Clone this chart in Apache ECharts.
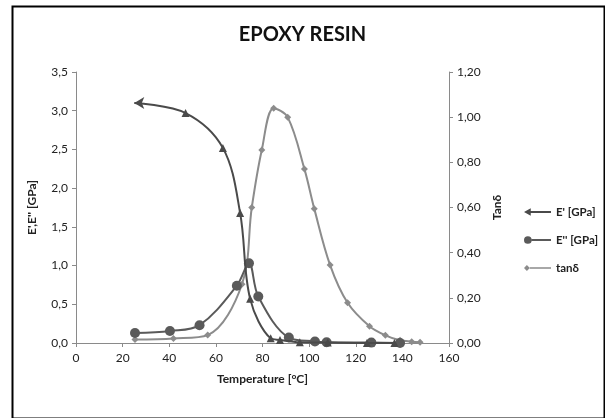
<!DOCTYPE html>
<html>
<head>
<meta charset="utf-8">
<script src="https://cdn.jsdelivr.net/npm/echarts@6/dist/echarts.min.js"></script>
<style>
html,body{margin:0;padding:0;background:#fff;}
#chart{width:605px;height:418px;}
</style>
</head>
<body>
<div id="chart"></div>
<script>
// Temperature [°C] / value pairs
const eStorage = [[25,3.1],[47,2.97],[63,2.52],[70.4,1.68],[74.7,0.57],[83.5,0.06],[87.5,0.04],[96,0.01],[108,0.005],[124.8,0.0],[136.6,0.0]];
const eLoss = [[25.3,0.13],[40.3,0.155],[53,0.23],[69,0.74],[74.2,1.03],[78.2,0.6],[91.3,0.07],[102.5,0.02],[107.5,0.01],[126.7,0.005],[139,0.0]];
const tanDelta = [[25.3,0.015],[41.8,0.02],[56.5,0.035],[71.2,0.26],[75.4,0.6],[79.7,0.855],[84.8,1.04],[90.8,1.0],[98,0.77],[102.2,0.595],[109,0.345],[116.5,0.178],[125.9,0.074],[132.7,0.034],[139,0.012],[144,0.006],[147.6,0.003]];
const seriesNames = ["E' [GPa]", "E'' [GPa]", "tanδ"];
const titleText = "EPOXY RESIN";
const xAxisName = "Temperature [°C]";
const yLeftName = "E',E'' [GPa]";
const yRightName = "Tanδ";

const FONT = 'Lato';
const chart = echarts.init(document.getElementById('chart'));
const eStorageData = eStorage.map((p, i) => i === 0 ? {value: p, symbol: 'arrow', symbolSize: [9, 10], symbolRotate: 90} : p);

chart.setOption({
  animation: false,
  backgroundColor: '#fff',
  title: {
    text: titleText, left: 'center', top: 20,
    textStyle: {fontFamily: FONT, fontSize: 20, fontWeight: 'bold', color: '#111'}
  },
  graphic: [{
    type: 'rect', left: 10, top: 4, shape: {width: 592, height: 412},
    style: {fill: 'none', stroke: '#000', lineWidth: 2}, silent: true
  }],
  legend: {
    orient: 'vertical', left: 519, top: 201, itemGap: 16,
    itemWidth: 27, itemHeight: 10,
    textStyle: {fontFamily: FONT, fontSize: 11.5, fontWeight: 'bold', color: '#222'},
    data: [
      {name: seriesNames[0], icon: 'path://M0,5 L7,1 L7,4 L28,4 L28,6 L7,6 L7,9 Z', itemStyle: {color: '#4a4a4a'}},
      {name: seriesNames[1], icon: 'path://M0,5 A4,4 0 1 1 8,5 A4,4 0 1 1 0,5 Z M8,4 L28,4 L28,6 L8,6 Z', itemStyle: {color: '#5a5a5a'}},
      {name: seriesNames[2], icon: 'path://M0,5 L3,2 L6,5 L3,8 Z M6,4.3 L28,4.3 L28,5.7 L6,5.7 Z', itemStyle: {color: '#8c8c8c'}}
    ]
  },
  grid: {left: 76, right: 156, top: 72, bottom: 75},
  xAxis: {
    type: 'value', min: 0, max: 160, interval: 20,
    name: xAxisName, nameLocation: 'middle', nameGap: 30,
    nameTextStyle: {fontFamily: FONT, fontSize: 12, fontWeight: 'bold', color: '#222'},
    axisLine: {lineStyle: {color: '#8a8a8a'}},
    axisTick: {show: true, length: 4, lineStyle: {color: '#8a8a8a'}},
    axisLabel: {fontFamily: FONT, fontSize: 12, color: '#222', margin: 9},
    splitLine: {show: false}
  },
  yAxis: [{
    type: 'value', min: 0, max: 3.5, interval: 0.5, position: 'left',
    name: yLeftName, nameLocation: 'middle', nameGap: 38, nameRotate: 90,
    nameTextStyle: {fontFamily: FONT, fontSize: 12, fontWeight: 'bold', color: '#222'},
    axisLine: {show: true, lineStyle: {color: '#8a8a8a'}},
    axisTick: {show: true, length: 4, lineStyle: {color: '#8a8a8a'}},
    axisLabel: {fontFamily: FONT, fontSize: 12, color: '#222', margin: 8,
      formatter: v => v.toFixed(1).replace('.', ',')},
    splitLine: {show: false}
  }, {
    type: 'value', min: 0, max: 1.2, interval: 0.2, position: 'right',
    name: yRightName, nameLocation: 'middle', nameGap: 42, nameRotate: 90,
    nameTextStyle: {fontFamily: FONT, fontSize: 12, fontWeight: 'bold', color: '#222'},
    axisLine: {show: true, lineStyle: {color: '#8a8a8a'}},
    axisTick: {show: true, length: 4, lineStyle: {color: '#8a8a8a'}},
    axisLabel: {fontFamily: FONT, fontSize: 12, color: '#222', margin: 8,
      formatter: v => v.toFixed(2).replace('.', ',')},
    splitLine: {show: false}
  }],
  series: [{
    name: seriesNames[0], type: 'line', yAxisIndex: 0, smooth: 0.35,
    data: eStorageData, symbol: 'triangle', symbolSize: 8,
    lineStyle: {color: '#4a4a4a', width: 2}, itemStyle: {color: '#4a4a4a'}, z: 3
  }, {
    name: seriesNames[1], type: 'line', yAxisIndex: 0, smooth: 0.35,
    data: eLoss, symbol: 'circle', symbolSize: 10,
    lineStyle: {color: '#5a5a5a', width: 2}, itemStyle: {color: '#5a5a5a'}, z: 2
  }, {
    name: seriesNames[2], type: 'line', yAxisIndex: 1, smooth: 0.35,
    data: tanDelta, symbol: 'diamond', symbolSize: 7,
    lineStyle: {color: '#8c8c8c', width: 2}, itemStyle: {color: '#8c8c8c'}, z: 1
  }]
});
</script>
</body>
</html>
